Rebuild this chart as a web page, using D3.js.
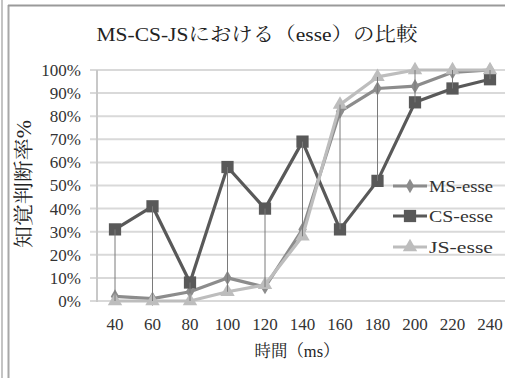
<!DOCTYPE html>
<html><head><meta charset="utf-8">
<script src="https://cdn.jsdelivr.net/npm/d3@7"></script>
<style>
html,body{margin:0;padding:0;background:#fff;}
svg{display:block;}
</style></head>
<body>
<svg id="chart" width="505" height="378"></svg>
<script>
const categories = ["40","60","80","100","120","140","160","180","200","220","240"];
const msValues = [2, 1, 4, 10, 6, 31, 82, 92, 93, 99, 100];
const csValues = [31, 41, 8, 58, 40, 69, 31, 52, 86, 92, 96];
const jsValues = [0, 0, 0, 4, 7, 28, 85, 97, 100, 100, 100];
const seriesNames = ["MS-esse", "CS-esse", "JS-esse"];
const yTicks = [0, 10, 20, 30, 40, 50, 60, 70, 80, 90, 100];
const titleText = "MS-CS-JSにおける（esse）の比較";
const xTitle = "時間（ms）";
const yTitle = "知覚判断率%";

const serif = '"Liberation Serif", "Noto Serif CJK JP", "Noto Sans CJK JP", serif';
const svg = d3.select("#chart");

// frame lines
svg.append("line").attr("x1",2).attr("x2",2).attr("y1",0).attr("y2",378).attr("stroke","#c4c4c4").attr("stroke-width",2);
svg.append("line").attr("x1",8.5).attr("x2",8.5).attr("y1",5).attr("y2",378).attr("stroke","#a8a8a8").attr("stroke-width",2);
svg.append("line").attr("x1",8).attr("x2",505).attr("y1",5.5).attr("y2",5.5).attr("stroke","#9a9a9a").attr("stroke-width",2);

const x = d3.scaleBand().domain(categories).range([96.25, 508.75]).padding(0);
const cx = c => x(c) + x.bandwidth()/2;
const y = d3.scaleLinear().domain([0, 100]).range([301, 70]);

// gridlines
svg.append("g").selectAll("line").data(yTicks).join("line")
  .attr("x1", 90).attr("x2", 505)
  .attr("y1", d => y(d)).attr("y2", d => y(d))
  .attr("stroke", "#d9d9d9").attr("stroke-width", 2);

// y axis line
svg.append("line").attr("x1",97).attr("x2",97).attr("y1",y(100)).attr("y2",y(0)+1)
  .attr("stroke","#c8c8c8").attr("stroke-width",2);

// y tick labels
svg.append("g").selectAll("text").data(yTicks).join("text")
  .attr("x", 81).attr("y", d => y(d)).attr("dy","0.35em")
  .attr("text-anchor","end").style("font-family",serif).style("font-size","17px").attr("fill","#333")
  .text(d => d + "%");

// x tick labels
svg.append("g").selectAll("text").data(categories).join("text")
  .attr("x", d => cx(d)).attr("y", 330)
  .attr("text-anchor","middle").style("font-family",serif).style("font-size","17px").attr("fill","#333")
  .text(d => d);

// titles
svg.append("text").attr("x",257).attr("y",41).attr("text-anchor","middle")
  .style("font-family",serif).style("font-size","19px").attr("fill","#222")
  .attr("textLength",321).attr("lengthAdjust","spacingAndGlyphs").text(titleText);
svg.append("text").attr("x",297).attr("y",357).attr("text-anchor","middle")
  .style("font-family",serif).style("font-size","17px").attr("fill","#222")
  .attr("textLength",85).attr("lengthAdjust","spacingAndGlyphs").text(xTitle);
svg.append("text").attr("transform","translate(31,184) rotate(-90)").attr("text-anchor","middle")
  .style("font-family",serif).style("font-size","20px").attr("fill","#222")
  .attr("textLength",128).attr("lengthAdjust","spacingAndGlyphs").text(yTitle);

const series = [
  {name: seriesNames[0], values: msValues, color: "#8c8c8c", marker: "diamond", msize: 60},
  {name: seriesNames[1], values: csValues, color: "#595959", marker: "square", msize: 150},
  {name: seriesNames[2], values: jsValues, color: "#bdbdbd", marker: "triangle", msize: 90}
];
const symType = {diamond: d3.symbolDiamond, square: d3.symbolSquare, triangle: d3.symbolTriangle};

const line = d3.line().x((d,i) => cx(categories[i])).y(d => y(d));

series.forEach(s => {
  svg.append("path").datum(s.values).attr("d", line)
    .attr("fill","none").attr("stroke", s.color).attr("stroke-width", 3.2).attr("stroke-linejoin","round");
  svg.append("g").selectAll("path").data(s.values).join("path")
    .attr("transform", (d,i) => `translate(${cx(categories[i])},${y(d)})`)
    .attr("d", d3.symbol().type(symType[s.marker]).size(s.msize))
    .attr("fill", s.color);
});

// high-low lines
svg.append("g").selectAll("line").data(categories).join("line")
  .attr("x1", d => cx(d)).attr("x2", d => cx(d))
  .attr("y1", (d,i) => y(Math.max(msValues[i], csValues[i], jsValues[i])))
  .attr("y2", (d,i) => y(Math.min(msValues[i], csValues[i], jsValues[i])))
  .attr("stroke", "#7a7a7a").attr("stroke-width", 1);

// legend
const legY = [186, 216, 247];
series.forEach((s, i) => {
  const g = svg.append("g");
  g.append("line").attr("x1",393).attr("x2",427).attr("y1",legY[i]).attr("y2",legY[i])
    .attr("stroke", s.color).attr("stroke-width", 3.2);
  g.append("path").attr("transform",`translate(410,${legY[i]})`)
    .attr("d", d3.symbol().type(symType[s.marker]).size(s.msize)).attr("fill", s.color);
  g.append("text").attr("x",429).attr("y",legY[i]).attr("dy","0.35em")
    .style("font-family",serif).style("font-size","17px").attr("fill","#333")
    .attr("textLength",64).attr("lengthAdjust","spacingAndGlyphs").text(s.name);
});
</script>
</body></html>
